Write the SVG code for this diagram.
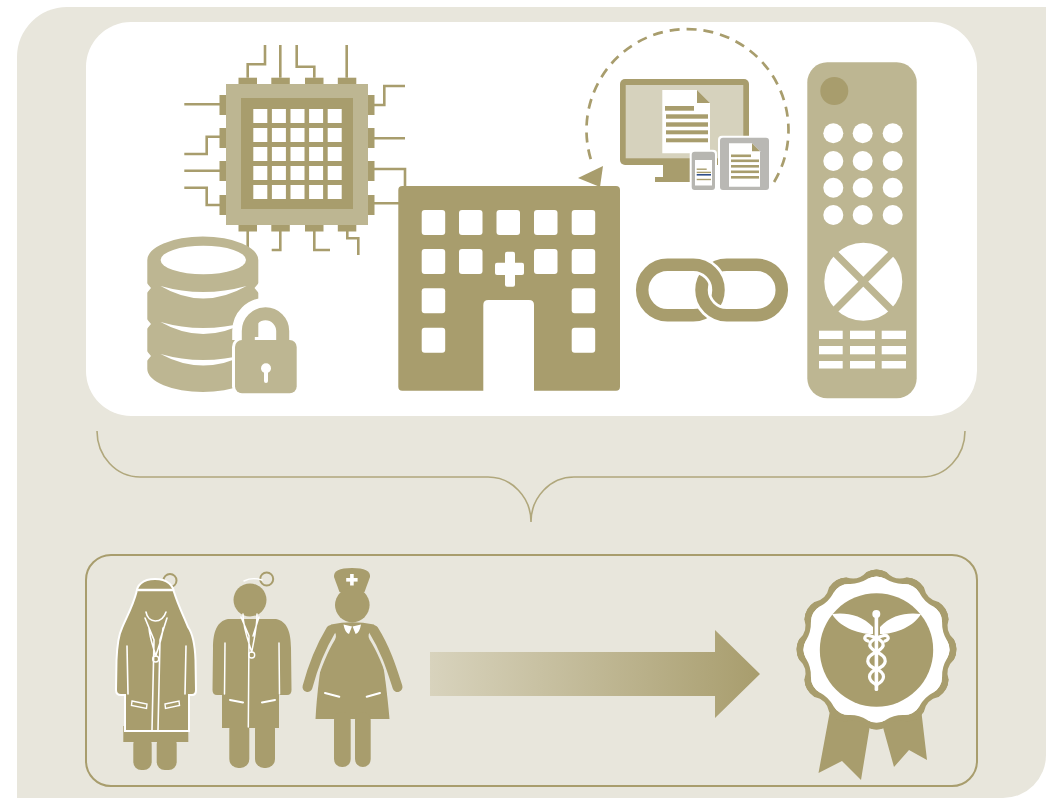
<svg xmlns="http://www.w3.org/2000/svg" width="1051" height="798" viewBox="0 0 1051 798">
  <style>
    .dk{fill:#a89d6d}
    .lt{fill:#bdb692}
    .wh{fill:#ffffff}
    .trace{fill:none;stroke:#a89d6d;stroke-width:2.6}
    .wline{fill:none;stroke:#ffffff;stroke-linecap:round}
    .brace{fill:none;stroke:#b0a77c;stroke-width:1.6}
  </style>
  <defs>
    <linearGradient id="arrowGrad" gradientUnits="userSpaceOnUse" x1="430" y1="0" x2="760" y2="0">
      <stop offset="0" stop-color="#d8d3bd"/>
      <stop offset="1" stop-color="#a89d6d"/>
    </linearGradient>
    <!-- one and a half waves of the rosette edge, repeated by rotation -->
    <path id="lobeOuter" d="M0,0 L-10.18,-77.33 Q0,-82.67 10.18,-77.33 Q18.29,-68.26 29.85,-72.06 Q41.34,-71.59 47.48,-61.88 Z"/>
    <path id="lobeInner" d="M0,0 L-9.27,-70.39 Q0,-75.61 9.27,-70.39 Q17.50,-65.31 27.17,-65.60 Q37.81,-65.48 43.22,-56.33 Z"/>
    <path id="linkL" d="M667.4,264.8 H693.3 A25.2,25.2 0 0 1 693.3,315.2 H667.4 A25.2,25.2 0 0 1 667.4,264.8 Z"/>
    <path id="linkR" d="M726.7,264.8 H756.6 A25.2,25.2 0 0 1 756.6,315.2 H726.7 A25.2,25.2 0 0 1 726.7,264.8 Z"/>
    <clipPath id="linkTop"><rect x="690" y="255" width="32" height="33"/></clipPath>
  </defs>

  <!-- backdrop -->
  <path d="M17,798 V57 A50,50 0 0 1 67,7 H1046 V755 A43,43 0 0 1 1003,798 Z" fill="#e8e6dc"/>
  <rect x="86" y="22" width="891" height="394" rx="45" fill="#ffffff"/>

  <!-- processor chip -->
  <g id="chip">
    <path class="trace" d="M247.7,77.7 V64.3 H265 V45 M280.3,77.7 V45 M314.3,77.7 V66.7 H296.7 V45 M346.7,77.7 V45
      M220,104.3 H184.3 M220,136.7 H206.7 V154 H184.3 M220,170.7 H184.3 M220,205 H206.7 V187.7 H184.3
      M374,105 H384.3 V86 H405 M374,138.3 H405 M374,169 H405 V187 M374,203.3 H399
      M247.7,231 V256 M280.3,231 V250 H271.7 M314.3,231 V250 H330 M347.3,231 V238.3 H358.3 V255"/>
    <g class="dk">
      <rect x="238.5" y="77.7" width="18.5" height="6.6"/>
      <rect x="271.3" y="77.7" width="18.5" height="6.6"/>
      <rect x="305" y="77.7" width="18.5" height="6.6"/>
      <rect x="337.8" y="77.7" width="18.5" height="6.6"/>
      <rect x="238.5" y="225" width="18.5" height="6.5"/>
      <rect x="271.3" y="225" width="18.5" height="6.5"/>
      <rect x="305" y="225" width="18.5" height="6.5"/>
      <rect x="337.8" y="225" width="18.5" height="6.5"/>
      <rect x="219.5" y="95" width="6.5" height="20"/>
      <rect x="219.5" y="128" width="6.5" height="20"/>
      <rect x="219.5" y="161" width="6.5" height="20"/>
      <rect x="219.5" y="195" width="6.5" height="20"/>
      <rect x="368" y="95" width="6.5" height="20"/>
      <rect x="368" y="128" width="6.5" height="20"/>
      <rect x="368" y="161" width="6.5" height="20"/>
      <rect x="368" y="195" width="6.5" height="20"/>
    </g>
    <rect class="lt" x="226" y="84" width="142" height="141"/>
    <rect class="dk" x="241" y="98" width="112" height="111"/>
    <g class="wh">
      <rect x="253.3" y="109" width="14" height="14"/><rect x="271.9" y="109" width="14" height="14"/><rect x="290.5" y="109" width="14" height="14"/><rect x="309.1" y="109" width="14" height="14"/><rect x="327.7" y="109" width="14" height="14"/>
      <rect x="253.3" y="128" width="14" height="14"/><rect x="271.9" y="128" width="14" height="14"/><rect x="290.5" y="128" width="14" height="14"/><rect x="309.1" y="128" width="14" height="14"/><rect x="327.7" y="128" width="14" height="14"/>
      <rect x="253.3" y="147" width="14" height="14"/><rect x="271.9" y="147" width="14" height="14"/><rect x="290.5" y="147" width="14" height="14"/><rect x="309.1" y="147" width="14" height="14"/><rect x="327.7" y="147" width="14" height="14"/>
      <rect x="253.3" y="166" width="14" height="14"/><rect x="271.9" y="166" width="14" height="14"/><rect x="290.5" y="166" width="14" height="14"/><rect x="309.1" y="166" width="14" height="14"/><rect x="327.7" y="166" width="14" height="14"/>
      <rect x="253.3" y="185" width="14" height="14"/><rect x="271.9" y="185" width="14" height="14"/><rect x="290.5" y="185" width="14" height="14"/><rect x="309.1" y="185" width="14" height="14"/><rect x="327.7" y="185" width="14" height="14"/>
    </g>
  </g>

  <!-- secured database -->
  <g id="database">
    <path class="lt" d="M147.3,260 A55.5,23.5 0 0 1 258.3,260 V369 A55.5,23 0 0 1 147.3,369 Z"/>
    <ellipse class="wh" cx="203.3" cy="260" rx="42.7" ry="14.3"/>
    <path class="wh" d="M160.5,286 Q203,311 246.5,286 Q203,298 160.5,286 Z"/>
    <path class="wh" d="M160.5,322 Q203,346 246.5,322 Q203,334 160.5,322 Z"/>
    <path class="wh" d="M160.5,354 Q203,377 246.5,354 Q203,366 160.5,354 Z"/>
    <path class="wh" d="M146,282 L151,288 L146,294 Z M146,318 L151,324 L146,330 Z M146,350 L151,356 L146,362 Z M259.5,282 L254.5,288 L259.5,294 Z"/>
    <path d="M241.7,340 V331 A23.8,23.8 0 0 1 289.3,331 V340" fill="none" stroke="#ffffff" stroke-width="19"/>
    <rect x="232" y="337" width="67.7" height="59.3" rx="10" fill="#ffffff"/>
    <path d="M248.3,340 V331 A17.2,17.2 0 0 1 282.7,331 V340" fill="none" stroke="#bdb692" stroke-width="13"/>
    <rect class="lt" x="235" y="340" width="61.7" height="53.3" rx="7"/>
    <circle class="wh" cx="266" cy="368.3" r="5"/>
    <rect class="wh" x="264" y="368" width="4" height="15" rx="2"/>
  </g>

  <!-- hospital building -->
  <g id="hospital">
    <rect class="dk" x="398.3" y="186" width="221.7" height="204.7" rx="4"/>
    <g class="wh">
      <rect x="421.7" y="210" width="23.5" height="25" rx="3"/><rect x="459" y="210" width="23.5" height="25" rx="3"/><rect x="496.5" y="210" width="23.5" height="25" rx="3"/><rect x="534" y="210" width="23.5" height="25" rx="3"/><rect x="571.7" y="210" width="23.5" height="25" rx="3"/>
      <rect x="421.7" y="249" width="23.5" height="25" rx="3"/><rect x="459" y="249" width="23.5" height="25" rx="3"/><rect x="534" y="249" width="23.5" height="25" rx="3"/><rect x="571.7" y="249" width="23.5" height="25" rx="3"/>
      <rect x="421.7" y="288.3" width="23.5" height="25" rx="3"/><rect x="571.7" y="288.3" width="23.5" height="25" rx="3"/>
      <rect x="421.7" y="327.7" width="23.5" height="25" rx="3"/><rect x="571.7" y="327.7" width="23.5" height="25" rx="3"/>
      <rect x="505" y="251.7" width="10" height="35" rx="2"/>
      <rect x="495" y="262.7" width="29" height="12.3" rx="2"/>
      <path d="M483.3,392 V305 Q483.3,300 488.3,300 H529 Q534,300 534,305 V392 Z"/>
    </g>
  </g>

  <!-- screens syncing a document -->
  <g id="devices">
    <path d="M774.1,182 A101,101 0 1 0 591.4,161.2" fill="none" stroke="#a89d6d" stroke-width="2.7" stroke-dasharray="10 7"/>
    <polygon class="dk" points="603,166 578,178 600,187"/>
    <rect class="dk" x="620" y="79" width="129" height="86" rx="5"/>
    <rect x="625.7" y="85" width="117.6" height="73.3" fill="#d6d2bd"/>
    <rect class="dk" x="663" y="165" width="27" height="12"/>
    <rect class="dk" x="655" y="177" width="45" height="5"/>
    <path class="wh" d="M662.3,90 H697 L710,103 V153.3 H662.3 Z"/>
    <path class="dk" d="M697,90 V103 H710 Z"/>
    <g class="dk">
      <rect x="665" y="106" width="29" height="4.7"/>
      <rect x="666" y="114.3" width="42" height="4.4"/>
      <rect x="666" y="122.3" width="42" height="4.4"/>
      <rect x="666" y="130.3" width="42" height="4"/>
      <rect x="666" y="138.3" width="42" height="4"/>
    </g>
    <rect class="wh" x="689.7" y="149.7" width="27.3" height="42.3" rx="4"/>
    <rect x="691.7" y="151.7" width="23.3" height="38.3" rx="3" fill="#b7b6b1"/>
    <rect class="wh" x="695" y="160" width="17" height="25.5"/>
    <rect class="dk" x="696.7" y="168.5" width="10" height="1.4"/>
    <rect class="dk" x="696.7" y="171.7" width="14.3" height="1.4"/>
    <rect x="696.7" y="174" width="14.3" height="1.6" fill="#2f4f8c"/>
    <rect class="dk" x="696.7" y="178.8" width="14.3" height="1.4"/>
    <rect class="wh" x="718" y="135.7" width="53" height="56.3" rx="4"/>
    <rect x="720" y="137.7" width="49" height="52.3" rx="3" fill="#b9b8b4"/>
    <path class="wh" d="M729,143.3 H752 L760,151.3 V186.7 H729 Z"/>
    <path class="dk" d="M752,143.3 V151.3 H760 Z"/>
    <g class="dk">
      <rect x="731" y="154.5" width="20" height="2.6"/>
      <rect x="731" y="159.5" width="28" height="2.6"/>
      <rect x="731" y="165" width="28" height="2.6"/>
      <rect x="731" y="170.5" width="28" height="2.6"/>
      <rect x="731" y="176" width="28" height="2.6"/>
    </g>
  </g>

  <!-- linked chain -->
  <g id="chain">
    <use href="#linkL" fill="none" stroke="#ffffff" stroke-width="18"/>
    <use href="#linkL" fill="none" stroke="#a89d6d" stroke-width="12.5"/>
    <use href="#linkR" fill="none" stroke="#ffffff" stroke-width="18"/>
    <use href="#linkR" fill="none" stroke="#a89d6d" stroke-width="12.5"/>
    <g clip-path="url(#linkTop)">
      <use href="#linkL" fill="none" stroke="#ffffff" stroke-width="18"/>
      <use href="#linkL" fill="none" stroke="#a89d6d" stroke-width="12.5"/>
    </g>
  </g>

  <!-- remote control -->
  <g id="remote">
    <rect class="lt" x="807.3" y="62.3" width="109.4" height="336" rx="20"/>
    <circle class="dk" cx="834.3" cy="91" r="14"/>
    <g class="wh">
      <circle cx="833.3" cy="133.3" r="10"/><circle cx="862.7" cy="133.3" r="10"/><circle cx="892.7" cy="133.3" r="10"/>
      <circle cx="833.3" cy="161" r="10"/><circle cx="862.7" cy="161" r="10"/><circle cx="892.7" cy="161" r="10"/>
      <circle cx="833.3" cy="187.7" r="10"/><circle cx="862.7" cy="187.7" r="10"/><circle cx="892.7" cy="187.7" r="10"/>
      <circle cx="833.3" cy="215" r="10"/><circle cx="862.7" cy="215" r="10"/><circle cx="892.7" cy="215" r="10"/>
      <circle cx="863.3" cy="281.7" r="39"/>
      <rect x="819" y="330.7" width="23.7" height="8.3"/><rect x="850" y="330.7" width="25" height="8.3"/><rect x="881.7" y="330.7" width="24.3" height="8.3"/>
      <rect x="819" y="346" width="23.7" height="8.3"/><rect x="850" y="346" width="25" height="8.3"/><rect x="881.7" y="346" width="24.3" height="8.3"/>
      <rect x="819" y="361" width="23.7" height="7.5"/><rect x="850" y="361" width="25" height="7.5"/><rect x="881.7" y="361" width="24.3" height="7.5"/>
    </g>
    <path d="M834.7,253.1 L891.9,310.3 M891.9,253.1 L834.7,310.3" stroke="#bdb692" stroke-width="7"/>
  </g>

  <!-- brace joining the two panels -->
  <g id="connectors">
    <path class="brace" d="M97,431 A43,46 0 0 0 140,477 H488 A43,45 0 0 1 531,522 A43,45 0 0 1 574,477 H922 A43,46 0 0 0 965,431"/>
  </g>

  <!-- lower panel -->
  <rect x="86" y="555" width="891" height="231" rx="25" fill="none" stroke="#a89d6d" stroke-width="2"/>

  <!-- female doctor -->
  <g id="doctor-female">
    <circle cx="170" cy="580.5" r="6.5" fill="#e8e6dc" stroke="#a89d6d" stroke-width="2"/>
    <rect class="dk" x="123.3" y="726" width="65" height="16"/>
    <rect class="dk" x="133.3" y="736" width="18.4" height="34" rx="8"/>
    <rect class="dk" x="156.7" y="736" width="20" height="34" rx="8"/>
    <path class="dk" d="M155,579 C142,579 137,586 136.5,592 C133,606 126,618 122,628 C118,636 117,648 116.5,660 L116,690 Q116,695 121,695 L125,695 L125,731 L189,731 L189,695 L192,695 Q196,695 196,690 L195.5,660 C195,646 193,634 188,627 C184,617 178,605 174,592 C173,586 168,579 155,579 Z" stroke="#ffffff" stroke-width="2"/>
    <path class="wline" stroke-width="2.5" d="M138,590 H173"/>
    <path class="wline" stroke-width="1.6" d="M127,646 L128,694 M186,646 L185,694 M146,612 C148,624 162,624 166,612 M145,618 L154,640 L152,730 M167,618 L160,640 L158,730 M149,628 C150,640 154,648 155.7,656 M163,628 C162,640 158,648 155.7,656"/>
    <circle cx="155.7" cy="659" r="3" fill="none" stroke="#ffffff" stroke-width="1.4"/>
    <path d="M132,701 L147,704 L146.5,708.5 L131.5,705.5 Z M165,704 L179,701 L179.5,705.5 L165.5,708.5 Z" fill="none" stroke="#ffffff" stroke-width="1.4"/>
  </g>

  <!-- male doctor -->
  <g id="doctor-male">
    <circle cx="266.7" cy="579" r="6.5" fill="#e8e6dc" stroke="#a89d6d" stroke-width="2"/>
    <circle class="dk" cx="250" cy="600" r="16.5"/>
    <path class="wline" stroke-width="1.4" d="M244,581 C250,578 256,578 262,580"/>
    <rect class="dk" x="229.3" y="720" width="20" height="48" rx="9"/>
    <rect class="dk" x="255" y="720" width="20" height="48" rx="9"/>
    <path class="dk" d="M228,619 C217,621 213,632 213,648 L212.5,690 Q212.5,695 217,695 L222,695 L222,728 L279,728 L279,695 L287,695 Q291.5,695 291.5,690 L291,648 C291,632 287,621 276,619 Z"/>
    <path class="wline" stroke-width="1.5" d="M225,643 L224.5,694 M279,643 L279.5,694 M241,617 L249,636 L248.3,727 M259,617 L253,636 M243,614 C243,628 248,640 251.7,652 M257,614 C257,628 254,640 251.7,652"/>
    <circle cx="251.7" cy="655" r="3" fill="none" stroke="#ffffff" stroke-width="1.4"/>
    <path class="wline" stroke-width="2" d="M230,700 L243,702.5 M262,702.5 L275,700"/>
  </g>

  <!-- nurse -->
  <g id="nurse">
    <path class="dk" d="M334,577 Q333,568 352,568 Q371,568 370,577 L364.5,592 H339.5 Z"/>
    <rect class="wh" x="350.1" y="574" width="3.6" height="11.5"/>
    <rect class="wh" x="346.2" y="578" width="11.4" height="3.6"/>
    <circle class="dk" cx="352.3" cy="605" r="17.3"/>
    <path class="dk" d="M331,624.5 Q352,620 374,624.5 C381,640 387,690 389.5,719 H315.5 C317,690 323,640 331,624.5 Z"/>
    <path d="M329,636 C319,652 313,670 307.5,687 M375.5,636 C386,652 392,670 397.5,687" fill="none" stroke="#e8e6dc" stroke-width="14" stroke-linecap="round"/>
    <path d="M331,630 C319,650 312,670 307.5,687 M373.5,630 C386,650 392,670 397.5,687" fill="none" stroke="#a89d6d" stroke-width="10" stroke-linecap="round"/>
    <rect class="dk" x="334" y="712" width="16.7" height="55" rx="8"/>
    <rect class="dk" x="355" y="712" width="15.7" height="55" rx="8"/>
    <path class="wh" d="M343.5,624.5 L352,626.5 L349,634 Q345,633 343.5,624.5 Z M361,624.5 L352.6,626.5 L355.6,634 Q359.6,633 361,624.5 Z"/>
    <path class="wline" stroke-width="2" d="M325,693 L339.3,696.7 M366.7,696.7 L380,693"/>
  </g>

  <!-- progress arrow -->
  <path id="progress" d="M430,652 H715 V630 L760,674 L715,718 V696 H430 Z" fill="url(#arrowGrad)"/>

  <!-- certification badge -->
  <g id="badge">
    <polygon class="dk" points="832,700 818.5,773 842,761 861,780 872,713"/>
    <polygon class="dk" points="879,713 894,767 909,750 927,760 920,700"/>
    <g transform="translate(876.5 649.5)" class="dk">
      <use href="#lobeOuter"/>
      <use href="#lobeOuter" transform="rotate(30)"/>
      <use href="#lobeOuter" transform="rotate(60)"/>
      <use href="#lobeOuter" transform="rotate(90)"/>
      <use href="#lobeOuter" transform="rotate(120)"/>
      <use href="#lobeOuter" transform="rotate(150)"/>
      <use href="#lobeOuter" transform="rotate(180)"/>
      <use href="#lobeOuter" transform="rotate(210)"/>
      <use href="#lobeOuter" transform="rotate(240)"/>
      <use href="#lobeOuter" transform="rotate(270)"/>
      <use href="#lobeOuter" transform="rotate(300)"/>
      <use href="#lobeOuter" transform="rotate(330)"/>
    </g>
    <g transform="translate(876.5 649.5)" class="wh">
      <use href="#lobeInner"/>
      <use href="#lobeInner" transform="rotate(30)"/>
      <use href="#lobeInner" transform="rotate(60)"/>
      <use href="#lobeInner" transform="rotate(90)"/>
      <use href="#lobeInner" transform="rotate(120)"/>
      <use href="#lobeInner" transform="rotate(150)"/>
      <use href="#lobeInner" transform="rotate(180)"/>
      <use href="#lobeInner" transform="rotate(210)"/>
      <use href="#lobeInner" transform="rotate(240)"/>
      <use href="#lobeInner" transform="rotate(270)"/>
      <use href="#lobeInner" transform="rotate(300)"/>
      <use href="#lobeInner" transform="rotate(330)"/>
    </g>
    <circle class="dk" cx="876.5" cy="650" r="56.7"/>
    <!-- caduceus -->
    <circle class="wh" cx="876.3" cy="614" r="4"/>
    <path class="wh" d="M873,627 C862,615 846,612 832,614 C839,626 856,634 873,634 Z M880,627 C891,615 907,612 921,614 C914,626 897,634 880,634 Z"/>
    <rect class="wh" x="874.6" y="616" width="3.6" height="75" rx="1.5"/>
    <path class="wline" stroke-width="3.2" d="M868,641 C862,639 865,634 871,636 C884,640 888,646 876,652 C864,658 866,665 876,669 C886,673 886,680 876,685 M885,641 C891,639 888,634 882,636 C869,640 865,646 877,652 C889,658 887,665 877,669 C867,673 867,680 877,685"/>
  </g>
</svg>
